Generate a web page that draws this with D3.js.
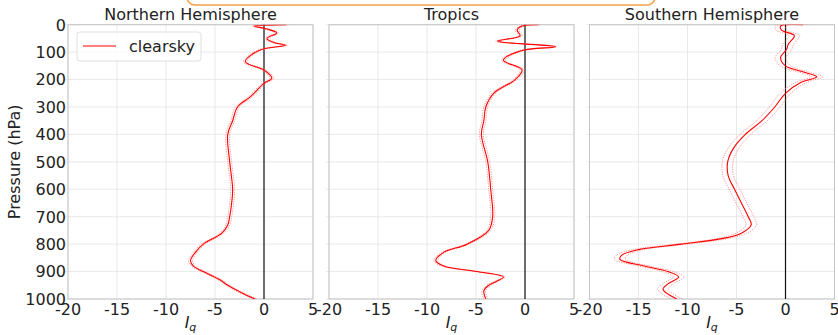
<!DOCTYPE html>
<html lang="en">
<head>
    <meta charset="UTF-8">
    <title>Iq profiles</title>
    <script src="https://cdn.jsdelivr.net/npm/d3@7"></script>
    <style>
        body { margin: 0; background: #fff; }
        text { font-family: "DejaVu Sans", sans-serif; fill: #222; }
    </style>
</head>
<body>
    <div id="container"></div>

    <script>
        // panel titles
        const titles = ["Northern Hemisphere", "Tropics", "Southern Hemisphere"]
        const xTicks = [-20, -15, -10, -5, 0, 5]
        const yTicks = [0, 100, 200, 300, 400, 500, 600, 700, 800, 900, 1000]

        // northern hemisphere profile (pressure in hPa, Iq)
        const nhP = [0, 5, 15, 30, 50, 65, 75, 92, 135, 165, 195, 214, 263, 300, 350, 400, 500, 600, 650, 700, 730, 760, 800, 830, 860, 880, 900, 930, 950, 975, 1000]
        const nhIq = [2.3, -1.0, 0.2, 1.3, 0.3, 1.0, 2.2, -0.4, -1.9, 0.0, 0.8, 0.0, -1.4, -2.7, -3.2, -3.7, -3.5, -3.2, -3.3, -3.5, -3.7, -4.3, -6.2, -7.0, -7.5, -7.2, -6.2, -4.5, -3.7, -2.4, -0.9]

        // tropics
        const trP = [0, 5, 20, 40, 60, 80, 95, 130, 165, 200, 250, 300, 350, 400, 500, 600, 700, 750, 800, 830, 860, 880, 900, 920, 935, 950, 970, 1000]
        const trIq = [1.4, -0.3, -0.8, -0.5, -2.8, 3.1, -0.4, -2.2, -0.3, -1.0, -3.2, -4.0, -4.2, -4.45, -3.8, -3.5, -3.3, -3.7, -5.9, -8.3, -9.1, -8.3, -4.9, -2.2, -2.9, -3.7, -4.2, -4.0]

        // southern hemisphere
        const shP = [0, 5, 20, 40, 70, 90, 120, 150, 170, 190, 210, 250, 300, 350, 400, 450, 500, 550, 600, 650, 700, 730, 760, 780, 800, 820, 840, 855, 880, 900, 920, 945, 965, 1000]
        const shIq = [1.8, -0.5, -0.4, 0.9, 0.3, 0.1, -0.5, 0.0, 1.6, 3.2, 1.6, 0.0, -1.1, -2.4, -4.1, -5.3, -5.9, -5.85, -5.2, -4.5, -3.8, -3.5, -4.5, -6.5, -10.6, -15.0, -16.7, -16.9, -14.4, -12.0, -10.9, -12.0, -12.5, -11.1]

        // half width of the dotted uncertainty lines per panel
        const spread = [0.2, 0.2, 0.55]

        const profiles = [[nhP, nhIq], [trP, trIq], [shP, shIq]]

        const w = 838, h = 335
        const panelLeft = [68, 329, 589.5]
        const pw = 245, yTop = 24.7, yBot = 299

        const svg = d3.select("#container").append("svg").attr("width", w).attr("height", h)

        // orange box peeking from the top
        svg.append("rect").attr("x", 187).attr("y", -20).attr("width", 468).attr("height", 25)
            .attr("rx", 8).attr("fill", "none").attr("stroke", "#f5a047").attr("stroke-width", 1.5)

        const yScale = d3.scaleLinear([0, 1000], [yTop, yBot])

        profiles.forEach((prof, k) => {
            const x0 = panelLeft[k]
            const xScale = d3.scaleLinear([-20, 5], [x0, x0 + pw])
            const g = svg.append("g")

            // grid
            g.selectAll(".gx").data(xTicks).enter().append("line")
                .attr("x1", d => xScale(d)).attr("x2", d => xScale(d))
                .attr("y1", yTop).attr("y2", yBot).attr("stroke", "#e3e3e3").attr("stroke-width", 0.8)
            g.selectAll(".gy").data(yTicks).enter().append("line")
                .attr("x1", x0 - 3).attr("x2", x0 + pw)
                .attr("y1", d => yScale(d)).attr("y2", d => yScale(d)).attr("stroke", "#e3e3e3").attr("stroke-width", 0.8)

            // frame
            g.append("rect").attr("x", x0).attr("y", yTop).attr("width", pw).attr("height", yBot - yTop)
                .attr("fill", "none").attr("stroke", "#c4c4c4").attr("stroke-width", 1)

            // zero line
            g.append("line").attr("x1", xScale(0)).attr("x2", xScale(0)).attr("y1", yTop).attr("y2", yBot)
                .attr("stroke", "#111").attr("stroke-width", 1.2)

            const [ps, vals] = prof
            const pts = ps.map((p, i) => [vals[i], p])
            const line = off => d3.line().x(d => xScale(d[0] + off)).y(d => yScale(d[1])).curve(d3.curveCatmullRom)

            g.append("clipPath").attr("id", "clip" + k).append("rect")
                .attr("x", x0).attr("y", yTop).attr("width", pw).attr("height", yBot - yTop)
            const lines = g.append("g").attr("clip-path", `url(#clip${k})`)
            ;[-spread[k], spread[k]].forEach(off => {
                lines.append("path").attr("d", line(off)(pts)).attr("fill", "none")
                    .attr("stroke", "#ff8080").attr("stroke-width", 0.8).attr("stroke-dasharray", "1.2,1.2")
            })
            lines.append("path").attr("d", line(0)(pts)).attr("fill", "none")
                .attr("stroke", "red").attr("stroke-width", 1.1)

            // x tick labels
            g.selectAll(".tx").data(xTicks).enter().append("text")
                .attr("x", d => xScale(d)).attr("y", 315).attr("text-anchor", "middle")
                .attr("font-size", 16).text(d => d < 0 ? "-" + Math.abs(d) : d)

            // x label
            const lab = g.append("text").attr("x", xScale(-7.5)).attr("y", 328).attr("text-anchor", "middle").attr("font-size", 16)
            lab.append("tspan").attr("font-style", "italic").text("I")
            lab.append("tspan").attr("font-style", "italic").attr("font-size", 11).attr("dy", 3).text("q")

            // title
            g.append("text").attr("x", x0 + pw / 2).attr("y", 20).attr("text-anchor", "middle")
                .attr("font-size", 16).text(titles[k])
        })

        // y tick labels on first panel
        svg.selectAll(".ty").data(yTicks).enter().append("text")
            .attr("x", 66).attr("y", d => yScale(d) + 5.8).attr("text-anchor", "end")
            .attr("font-size", 16).text(d => d)

        svg.append("text").attr("transform", `translate(20,${(yTop + yBot) / 2}) rotate(-90)`)
            .attr("text-anchor", "middle").attr("font-size", 16).text("Pressure (hPa)")

        // legend
        const lg = svg.append("g")
        lg.append("rect").attr("x", 77).attr("y", 32).attr("width", 124).attr("height", 29).attr("rx", 3)
            .attr("fill", "white").attr("fill-opacity", 0.8).attr("stroke", "#e0e0e0")
        lg.append("line").attr("x1", 83).attr("x2", 116).attr("y1", 46).attr("y2", 46).attr("stroke", "red").attr("stroke-width", 1)
        lg.append("text").attr("x", 129).attr("y", 52).attr("font-size", 16).text("clearsky")
    </script>
</body>
</html>
